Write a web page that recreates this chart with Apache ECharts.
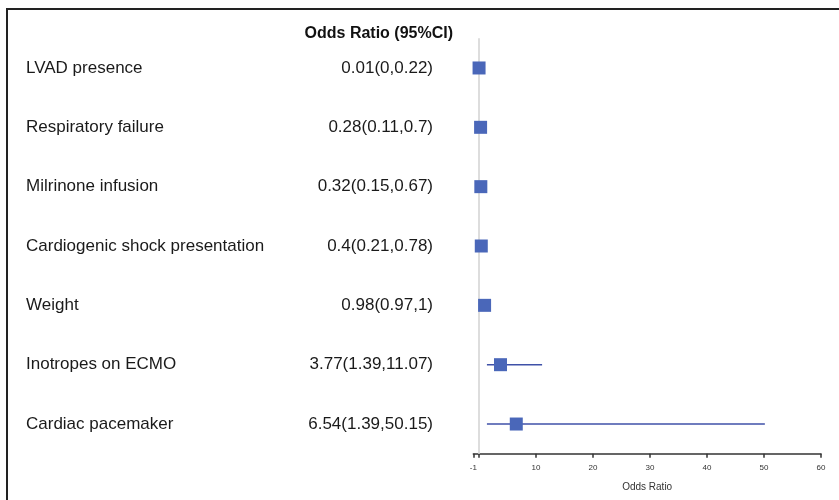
<!DOCTYPE html>
<html><head><meta charset="utf-8">
<script src="https://cdn.jsdelivr.net/npm/echarts@6/dist/echarts.min.js"></script>
<style>html,body{margin:0;padding:0;background:#fff}#c{width:839px;height:500px}</style>
</head><body><div id="c"></div>
<script>
const variables = ['LVAD presence','Respiratory failure','Milrinone infusion','Cardiogenic shock presentation','Weight','Inotropes on ECMO','Cardiac pacemaker'];
const oddsRatio = [0.01, 0.28, 0.32, 0.4, 0.98, 3.77, 6.54];
const ciLow = [0, 0.11, 0.15, 0.21, 0.97, 1.39, 1.39];
const ciHigh = [0.22, 0.7, 0.67, 0.78, 1, 11.07, 50.15];
const tickValues = [-1, 0, 10, 20, 30, 40, 50, 60];
const tickLabels = [-1, 10, 20, 30, 40, 50, 60];
const referenceValue = 0;

const orText = variables.map((v,i)=> `${oddsRatio[i]}(${ciLow[i]},${ciHigh[i]})`);
const chart = echarts.init(document.getElementById('c'));
const gridLeft = 473.3;
chart.setOption({
  animation:false,
  backgroundColor:'#fff',
  title:{text:'Odds Ratio (95%CI)', right:386, top:26, padding:0,
    textStyle:{fontFamily:'Liberation Sans, Arial', fontSize:16, fontWeight:'bold', color:'#111'}},
  graphic:[{type:'rect', shape:{x:7, y:9, width:840, height:500}, style:{fill:'none', stroke:'#222', lineWidth:2}, silent:true}],
  grid:{left:gridLeft, right:18, top:38.3, bottom:46.3},
  xAxis:{type:'value', min:-1, max:60,
    name:'Odds Ratio', nameLocation:'middle', nameGap:29,
    nameTextStyle:{fontFamily:'Liberation Sans, Arial', fontSize:10, color:'#333'},
    axisLine:{show:true, lineStyle:{color:'#333', width:1.5}},
    axisTick:{show:true, length:4, lineStyle:{color:'#333', width:1.5}, customValues:tickValues},
    axisLabel:{fontFamily:'Liberation Sans, Arial', fontSize:8, color:'#333', margin:10, customValues:tickLabels},
    splitLine:{show:false}},
  yAxis:[
    {type:'category', data:variables, inverse:true, position:'left',
     axisLine:{show:false}, axisTick:{show:false}, splitLine:{show:false},
     axisLabel:{align:'left', margin:gridLeft-26, fontFamily:'Liberation Sans, Arial', fontSize:17, color:'#1a1a1a'}},
    {type:'category', data:orText, inverse:true, position:'left',
     axisLine:{show:false}, axisTick:{show:false}, splitLine:{show:false},
     axisLabel:{align:'right', margin:gridLeft-433, fontFamily:'Liberation Sans, Arial', fontSize:17, color:'#1a1a1a'}}
  ],
  series:[
    {type:'scatter', yAxisIndex:0, z:1, data:[],
     markLine:{silent:true, symbol:['none','none'], label:{show:false}, z:1,
       lineStyle:{color:'#dddddd', width:2, type:'solid'}, data:[{xAxis:referenceValue}]}},
    {type:'custom', yAxisIndex:0, z:5,
     data: variables.map((v,i)=>[ciLow[i], ciHigh[i], i]),
     renderItem:(params, api)=>{
       const p1 = api.coord([api.value(0), api.value(2)]);
       const p2 = api.coord([api.value(1), api.value(2)]);
       return {type:'line', shape:{x1:p1[0], y1:p1[1], x2:p2[0], y2:p2[1]}, style:{stroke:'#3f51a8', lineWidth:1.5}};
     }},
    {type:'scatter', yAxisIndex:0, z:10, symbol:'rect', symbolSize:13,
     itemStyle:{color:'#4a67b9', opacity:1},
     data: variables.map((v,i)=>[oddsRatio[i], i])}
  ]
});
</script></body></html>
